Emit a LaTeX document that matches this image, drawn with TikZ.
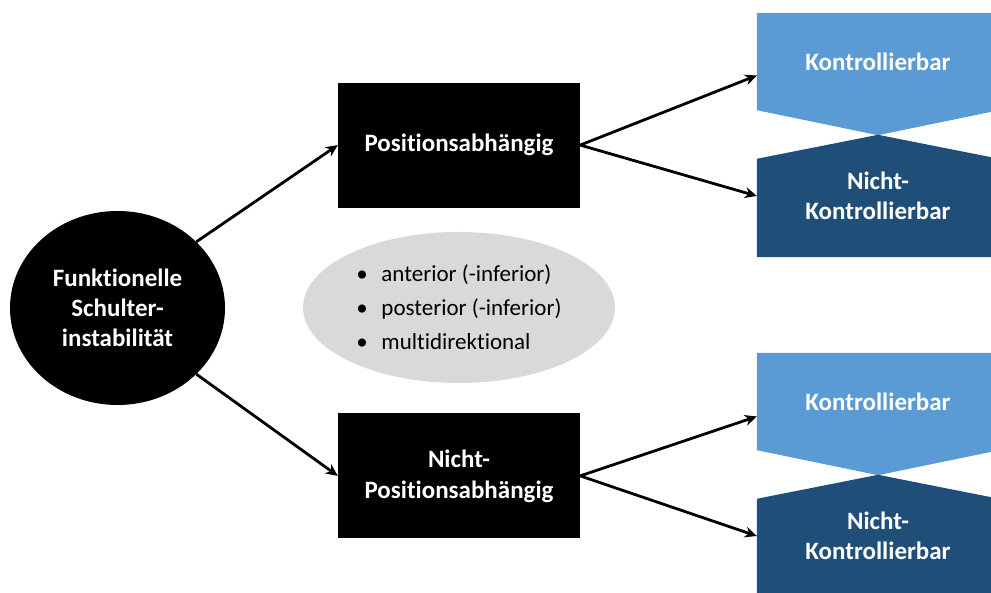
\documentclass[tikz,border=0pt]{standalone}
\usepackage{fontspec}
\setmainfont{Carlito}[Ligatures=NoCommon]
\usetikzlibrary{arrows.meta, positioning, backgrounds, shapes.geometric}
\definecolor{hellblau}{HTML}{5B9BD5}
\definecolor{dunkelblau}{HTML}{1F4E79}
\definecolor{hellgrau}{HTML}{D9D9D9}
\newcommand{\punkt}{\makebox[25pt][l]{\textbullet}}

\begin{document}
\begin{tikzpicture}[
    x=1pt, y=1pt,
    node distance=24pt,
    haupt/.style={ellipse, fill=black, text=white, minimum width=215pt,
                  minimum height=194pt, inner sep=0pt, align=center,
                  font=\fontsize{25}{30}\selectfont\bfseries},
    kasten/.style={rectangle, fill=black, text=white, minimum width=242pt,
                   minimum height=125pt, inner sep=0pt, align=center,
                   font=\fontsize{25}{31}\selectfont\bfseries},
    info/.style={ellipse, fill=hellgrau, minimum width=312pt,
                 minimum height=151pt, align=left,
                 font=\fontsize{23}{34}\selectfont},
    hell/.style={rectangle, text=white, minimum width=242pt,
                 minimum height=97pt, inner sep=0pt, align=center,
                 font=\fontsize{25}{30}\selectfont\bfseries},
    dunkel/.style={hell, minimum height=122pt},
    arrow/.style={-{Stealth[length=12pt, width=11pt]}, line width=2.8pt},
  ]
  \path[use as bounding box, clip] (0,0) rectangle (991,593);

  % Mitte
  \node[haupt] (instab) at (117.5,285) {Funktionelle\\Schulter-\\instabilität};
  \node[info] (richtung) at (459,285.5)
    {\punkt anterior (-inferior)\\\punkt posterior (-inferior)\\\punkt multidirektional};

  % Kategorien
  \node[kasten, above=of richtung] (pos) {Positionsabhängig};
  \node[kasten, below=30pt of richtung] (npos) {Nicht-\\Positionsabhängig};

  % Kontrolle
  \node[hell] (kon1) at (878,531.5) {Kontrollierbar};
  \node[dunkel] (nkon1) at (878,397) {Nicht-\\Kontrollierbar};
  \node[hell] (kon2) at (878,191.5) {Kontrollierbar};
  \node[dunkel] (nkon2) at (878,57) {Nicht-\\Kontrollierbar};

  \begin{pgfonlayer}{background}
    \foreach \k in {kon1, kon2}
      \fill[hellblau] (\k.north west) -- (\k.north east) -- (\k.south east)
        -- ([yshift=-25pt]\k.south) -- (\k.south west) -- cycle;
    \foreach \k in {nkon1, nkon2}
      \fill[dunkelblau] (\k.south west) -- (\k.south east)
        -- ([yshift=-24pt]\k.north east) -- (\k.north)
        -- ([yshift=-24pt]\k.north west) -- cycle;
  \end{pgfonlayer}

  % Pfeile
  \draw[arrow] (instab.40) -- (pos.west);
  \draw[arrow] (instab.-40) -- (npos.west);
  \draw[arrow] (pos.east) -- ([yshift=-14pt]kon1.west);
  \draw[arrow] (pos.east) -- (nkon1.west);
  \draw[arrow] (npos.east) -- ([yshift=-15pt]kon2.west);
  \draw[arrow] (npos.east) -- (nkon2.west);
\end{tikzpicture}
\end{document}
